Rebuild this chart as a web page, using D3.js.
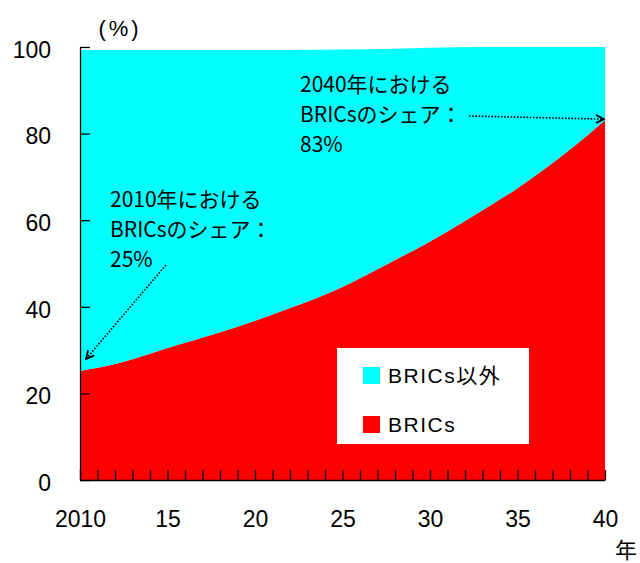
<!DOCTYPE html>
<html>
<head>
<meta charset="utf-8">
<script src="https://cdn.jsdelivr.net/npm/d3@7"></script>
<style>
  body { margin: 0; background: #fff; }
  svg text { fill: #000; }
</style>
</head>
<body>
<div id="field"></div>
<script>
// values (share of world total, %)
const years = [2010, 2012, 2015, 2018, 2020, 2022, 2025, 2028, 2030, 2033, 2035, 2038, 2040];
const bricsShare = [25.2, 26.8, 30.5, 34.1, 36.8, 39.7, 44.6, 50.8, 55.1, 62.3, 67.4, 76.3, 83.1];
const otherShare = [74.1, 72.5, 68.8, 65.2, 62.5, 59.6, 54.8, 48.8, 44.7, 37.7, 32.6, 23.7, 16.9];
const seriesKeys = ["BRICs", "BRICs以外"];
const seriesColors = ["#ff0000", "#00ffff"];
const yTicks = [0, 20, 40, 60, 80, 100];
const xLabelYears = [2010, 2015, 2020, 2025, 2030, 2035, 2040];

const width = 640, height = 563;
const plotLeft = 80, plotRight = 605, plotTop = 47, plotBottom = 480;

const rows = years.map(function(y, i) {
    return {year: y, "BRICs": bricsShare[i], "BRICs以外": otherShare[i]};
});

const stack = d3.stack().keys(seriesKeys);
const layers = stack(rows);

const x = d3.scaleLinear().domain([2010, 2040]).range([plotLeft, plotRight]);
const y = d3.scaleLinear().domain([0, 100]).range([plotBottom, plotTop]);
const color = d3.scaleOrdinal().domain(seriesKeys).range(seriesColors);

const svg = d3.select("#field").append("svg")
    .attr("width", width)
    .attr("height", height);

const area = d3.area()
    .curve(d3.curveMonotoneX)
    .x(function(d) { return x(d.data.year); })
    .y0(function(d) { return y(d[0]); })
    .y1(function(d) { return y(d[1]); });

svg.append("g").selectAll("path")
    .data(layers)
    .enter().append("path")
    .attr("d", area)
    .attr("fill", function(d) { return color(d.key); });

// axes, ticks pointing inward
const yAxis = d3.axisLeft(y)
    .tickValues(yTicks)
    .tickSizeInner(-10)
    .tickSizeOuter(0)
    .tickPadding(29);

const gy = svg.append("g")
    .attr("transform", "translate(" + plotLeft + ",0)")
    .call(yAxis);
gy.selectAll("text")
    .attr("dy", "0.45em")
    .style("font-family", "'Liberation Sans', Arial, sans-serif")
    .style("font-size", "23px");

const xAxis = d3.axisBottom(x)
    .tickValues(d3.range(2010, 2041))
    .tickSizeInner(-10)
    .tickSizeOuter(0)
    .tickPadding(31)
    .tickFormat(function(d) {
        if (xLabelYears.indexOf(d) < 0) return "";
        return d === 2010 ? "2010" : String(d).slice(2);
    });

const gx = svg.append("g")
    .attr("transform", "translate(0," + plotBottom + ")")
    .call(xAxis);
gx.selectAll("text")
    .style("font-family", "'Liberation Sans', Arial, sans-serif")
    .style("font-size", "23px");

svg.selectAll(".domain, .tick line").attr("stroke", "#000").attr("stroke-width", 1.3);

svg.append("text")
    .attr("x", 120)
    .attr("y", 36)
    .attr("text-anchor", "middle")
    .style("font-family", "'Liberation Sans', Arial, sans-serif")
    .style("font-size", "22px")
    .style("letter-spacing", "3px")
    .text("(%)");

svg.append("text")
    .attr("x", 626)
    .attr("y", 558)
    .attr("text-anchor", "middle")
    .style("font-family", "'Noto Sans CJK JP', sans-serif")
    .style("font-size", "22px")
    .text("年");

// legend
const legend = svg.append("g");
legend.append("rect")
    .attr("x", 337).attr("y", 348)
    .attr("width", 192).attr("height", 96)
    .attr("fill", "#fff");

const legendItems = ["BRICs以外", "BRICs"];
legend.selectAll("g.item")
    .data(legendItems)
    .enter().append("g")
    .attr("class", "item")
    .attr("transform", function(d, i) { return "translate(363," + (367 + i * 49) + ")"; })
    .each(function(d) {
        const g = d3.select(this);
        g.append("rect").attr("width", 17).attr("height", 17).attr("fill", color(d));
        g.append("text")
            .attr("x", 25).attr("y", 16)
            .style("font-family", "'Liberation Sans', 'Noto Sans CJK JP', sans-serif")
            .style("font-size", "21px")
            .style("letter-spacing", "1.5px")
            .text(d);
    });

// annotations
svg.append("defs").append("marker")
    .attr("id", "arrow")
    .attr("viewBox", "0 0 10 10")
    .attr("refX", 9).attr("refY", 5)
    .attr("markerWidth", 10).attr("markerHeight", 10)
    .attr("markerUnits", "userSpaceOnUse")
    .attr("orient", "auto")
    .append("path")
    .attr("d", "M1,1 L9,5 L1,9")
    .attr("fill", "none")
    .attr("stroke", "#000")
    .attr("stroke-width", 1.8);

const notes = [
    {lines: ["2010年における", "BRICsのシェア：", "25%"], x: 110, y: 207, from: [166, 265], year: 2010, value: 25.2, off: [6, -12]},
    {lines: ["2040年における", "BRICsのシェア：", "83%"], x: 300, y: 92, from: [469, 116], year: 2040, value: 83.1, off: [-1, -1]}
];

notes.forEach(function(n) {
    const t = svg.append("text")
        .style("font-family", "'Liberation Sans Narrow', 'Noto Sans CJK JP', sans-serif")
        .style("font-size", "21px");
    n.lines.forEach(function(l, i) {
        t.append("tspan").attr("x", n.x).attr("y", n.y + i * 30).text(l);
    });
    svg.append("line")
        .attr("x1", n.from[0]).attr("y1", n.from[1])
        .attr("x2", x(n.year) + n.off[0]).attr("y2", y(n.value) + n.off[1])
        .attr("stroke", "#000")
        .attr("stroke-width", 1.6)
        .attr("stroke-dasharray", "1.6,1.6")
        .attr("marker-end", "url(#arrow)");
});
</script>
</body>
</html>
